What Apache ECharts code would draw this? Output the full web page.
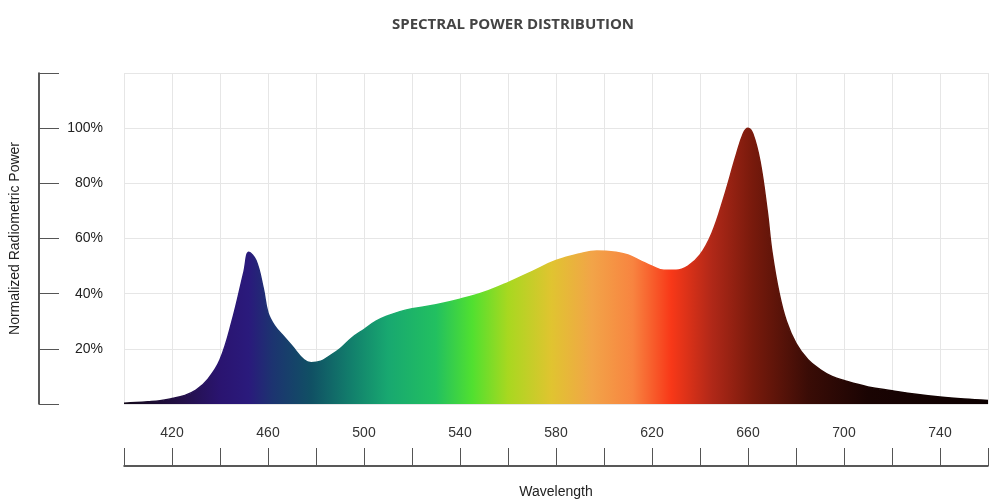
<!DOCTYPE html><html><head><meta charset="utf-8"><script src="https://cdn.jsdelivr.net/npm/echarts@6/dist/echarts.min.js"></script></head><body style="margin:0;background:#fff"><div id="c" style="width:1000px;height:504px"></div><script>
var wavelengths=[400,405,410,415,420,425,430,435,440,445,450,452,455,458,460,463,466,470,475,478,482,485,490,495,500,505,510,515,520,530,540,550,560,570,580,590,597,605,610,615,620,625,630,635,640,645,650,655,658,660,662,665,668,670,673,676,680,685,690,695,700,710,720,730,740,750,760];
var power=[0.3,0.5,0.8,1.2,2,3,5,9,16,30,48,55,52,42,33,28,25,21,16,15,15.5,17,20,24,27,30,32,33.5,34.5,36,38,40.5,44,48,52,54.5,55.5,55,54,52,50,48.5,48.5,50,54,62,75,90,98,100,98,88,70,55,40,30,22,16,12.5,10,8.5,6.2,4.8,3.5,2.5,1.8,1.3];
var xTickLabels=[420,460,500,540,580,620,660,700,740];
var yTickLabels=[20,40,60,80,100];
var stops=[[400,'#120818'],[425,'#24104a'],[440,'#2a1470'],[452,'#2a1a7c'],[462,'#1c3470'],[478,'#105064'],[495,'#12806c'],[510,'#18a870'],[530,'#22c060'],[545,'#50e030'],[560,'#a8d820'],[578,'#e0c430'],[595,'#f2a448'],[612,'#f88440'],[628,'#f83818'],[645,'#b02818'],[662,'#781a0c'],[685,'#3a0c06'],[710,'#1a0403'],[760,'#0c0000']];
var grad=new echarts.graphic.LinearGradient(0,0,1,0,stops.map(function(s){return {offset:(s[0]-400)/360,color:s[1]};}));
var data=wavelengths.map(function(w,i){return [w,power[i]];});
var chart=echarts.init(document.getElementById('c'));
chart.setOption({
 title:{text:'SPECTRAL POWER DISTRIBUTION',left:508,textAlign:'center',top:12,textStyle:{fontFamily:'Open Sans',fontWeight:'bold',fontSize:15,color:'#444'}},
 grid:{left:123,right:12,top:73,bottom:95},
 xAxis:[{type:'value',min:400,max:760,interval:20,axisLine:{show:false},axisTick:{show:false},
   splitLine:{show:true,lineStyle:{color:'#e6e6e6'}},
   axisLabel:{margin:22,fontFamily:'Liberation Sans',fontSize:14,color:'#333',formatter:function(v){return xTickLabels.indexOf(v)>=0?String(v):'';}}},
  {type:'value',position:'bottom',offset:62,min:400,max:760,interval:20,axisLine:{show:true,onZero:false,lineStyle:{color:'#222',width:1.5}},
   axisTick:{show:true,inside:true,length:18,lineStyle:{color:'#555'}},axisLabel:{show:false},splitLine:{show:false},
   name:'Wavelength',nameLocation:'middle',nameGap:19,nameTextStyle:{fontFamily:'Liberation Sans',fontSize:14,color:'#222'}}],
 yAxis:[{type:'value',min:0,max:120,interval:20,position:'left',offset:85,
   axisLine:{show:true,lineStyle:{color:'#222',width:1.5}},axisTick:{show:true,inside:true,length:20,lineStyle:{color:'#555'}},
   axisLabel:{show:false},splitLine:{show:true,lineStyle:{color:'#e6e6e6'}},
   name:'Normalized Radiometric Power',nameLocation:'middle',nameGap:17,nameTextStyle:{fontFamily:'Liberation Sans',fontSize:14,color:'#222'}},
  {type:'value',min:0,max:120,interval:20,position:'left',offset:21,axisLine:{show:false},axisTick:{show:false},splitLine:{show:false},
   axisLabel:{margin:0,fontFamily:'Liberation Sans',fontSize:14,color:'#222',formatter:function(v){return yTickLabels.indexOf(v)>=0?v+'%':'';}}}],
 series:[{type:'line',data:data,smooth:0.4,symbol:'none',xAxisIndex:0,yAxisIndex:0,
   lineStyle:{width:1.5,color:grad},areaStyle:{color:grad,opacity:1}}]
});
</script></body></html>
